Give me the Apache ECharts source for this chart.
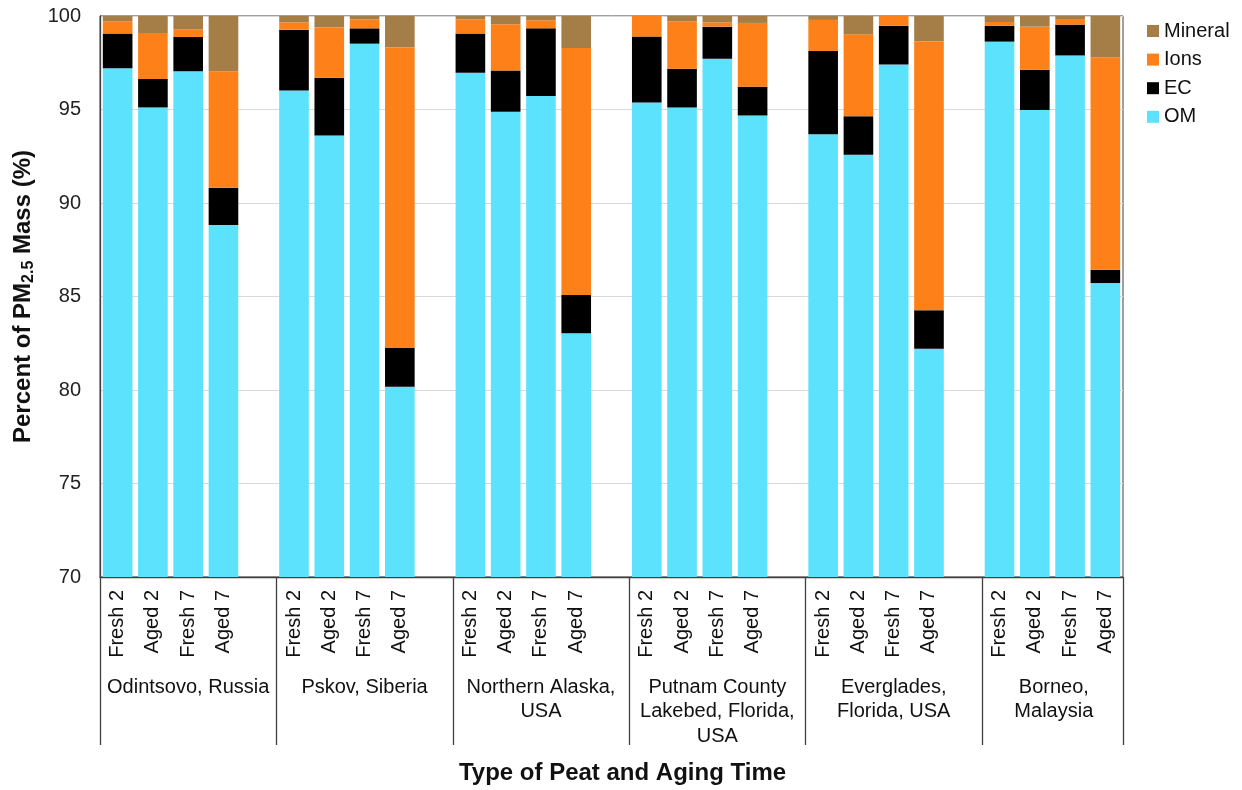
<!DOCTYPE html>
<html>
<head>
<meta charset="utf-8">
<script src="https://cdn.jsdelivr.net/npm/echarts@6/dist/echarts.min.js"></script>
<style>
  html, body { margin: 0; padding: 0; background: #fff; }
  #chart { width: 1242px; height: 790px; }
</style>
</head>
<body>
<div id="chart"></div>
<script>
// Peat sites and the four burn/aging conditions measured at each
const sites = [
  'Odintsovo, Russia',
  'Pskov, Siberia',
  'Northern Alaska,\nUSA',
  'Putnam County\nLakebed, Florida,\nUSA',
  'Everglades,\nFlorida, USA',
  'Borneo,\nMalaysia'
];
const conditions = ['Fresh 2', 'Aged 2', 'Fresh 7', 'Aged 7'];

// Share of PM2.5 mass (%) per component, 4 conditions per site in site order
const om = [
  97.21, 95.11, 97.05, 88.83,
  96.02, 93.61, 98.52, 80.17,
  96.97, 94.88, 95.72, 83.04,
  95.38, 95.11, 97.72, 94.68,
  93.68, 92.58, 97.40, 82.20,
  98.63, 94.97, 97.89, 85.72
];
const ec = [
  1.85, 1.52, 1.83, 1.98,
  3.25, 3.09, 0.82, 2.07,
  2.09, 2.21, 3.62, 2.04,
  3.52, 2.07, 1.71, 1.54,
  4.45, 2.06, 2.08, 2.07,
  0.84, 2.16, 1.65, 0.71
];
const ions = [
  0.66, 2.46, 0.41, 6.24,
  0.39, 2.69, 0.48, 16.08,
  0.76, 2.47, 0.43, 13.21,
  1.10, 2.54, 0.23, 3.41,
  1.66, 4.38, 0.52, 14.37,
  0.21, 2.30, 0.26, 11.37
];
const mineral = [
  0.28, 0.91, 0.71, 2.95,
  0.34, 0.61, 0.18, 1.68,
  0.18, 0.44, 0.23, 1.71,
  0.00, 0.28, 0.34, 0.37,
  0.21, 0.98, 0.00, 1.36,
  0.32, 0.57, 0.20, 2.20
];
const yTicks = { min: 70, max: 100, step: 5 };

// Build the category axis: each site gets its 4 conditions, followed by an
// empty spacer slot between sites (none after the last site).
const categories = [];
const slotOfValue = [];
sites.forEach((s, si) => {
  conditions.forEach((c, ci) => {
    slotOfValue.push(categories.length);
    categories.push(c);
  });
  if (si < sites.length - 1) categories.push('');
});
function spread(values) {
  const out = categories.map(() => null);
  values.forEach((v, i) => { out[slotOfValue[i]] = v; });
  return out;
}
// slot index at which each site's name is printed (middle of its span)
const siteLabelSlot = {};
sites.forEach((s, si) => { siteLabelSlot[si === sites.length - 1 ? si * 5 + 1 : si * 5 + 2] = si; });

const FONT = "'Liberation Sans', Arial, sans-serif";
const colors = { OM: '#5CE2FC', EC: '#000000', Ions: '#FE8018', Mineral: '#A57D47' };

function barSeries(name, values) {
  return {
    name: name,
    type: 'bar',
    stack: 'mass',
    xAxisIndex: 0,
    barCategoryGap: '16%',
    itemStyle: { color: colors[name] },
    emphasis: { disabled: true },
    data: spread(values)
  };
}

const chart = echarts.init(document.getElementById('chart'), null, { renderer: 'canvas' });
chart.setOption({
  animation: false,
  textStyle: { fontFamily: FONT },
  grid: {
    left: 100, right: 119, top: 16, bottom: 213,
    show: true, borderColor: '#404040', borderWidth: 1, backgroundColor: 'transparent'
  },
  legend: {
    orient: 'vertical',
    left: 1147,
    top: 21,
    padding: 0,
    icon: 'rect',
    itemWidth: 12,
    itemHeight: 12,
    itemGap: 8.6,
    data: ['Mineral', 'Ions', 'EC', 'OM'],
    textStyle: { fontFamily: FONT, fontSize: 20, color: '#111' }
  },
  xAxis: [
    {
      type: 'category',
      data: categories,
      position: 'bottom',
      axisLine: { show: true, lineStyle: { color: '#404040', width: 1.3 } },
      axisTick: { show: false },
      axisLabel: {
        interval: 0,
        rotate: 90,
        margin: 13,
        fontFamily: FONT,
        fontSize: 20,
        color: '#111'
      },
      splitLine: { show: false }
    },
    {
      type: 'category',
      data: categories,
      position: 'bottom',
      axisLine: { show: false },
      axisTick: {
        show: true,
        interval: (i) => i % 5 === 0,
        length: 168,
        lineStyle: { color: '#404040', width: 1.3 }
      },
      axisLabel: {
        interval: (i) => siteLabelSlot[i] !== undefined,
        margin: 98,
        verticalAlign: 'top',
        lineHeight: 24.5,
        fontFamily: FONT,
        fontSize: 20,
        color: '#111',
        formatter: (v, i) => {
          const si = siteLabelSlot[i];
          if (si === undefined) return '';
          // the last site has no spacer slot, so nudge its name to the span centre
          if (si === sites.length - 1) {
            return sites[si].split('\n').map(t => '{shift|' + t + '}').join('\n');
          }
          return sites[si];
        },
        rich: {
          shift: { fontFamily: FONT, fontSize: 20, color: '#111', lineHeight: 24.5, padding: [0, 0, 0, 38] }
        }
      },
      name: 'Type of Peat and Aging Time',
      nameLocation: 'middle',
      nameGap: 184,
      nameTextStyle: { fontFamily: FONT, fontSize: 24, fontWeight: 'bold', color: '#111', padding: [0, 0, 0, 22] },
      splitLine: { show: false }
    }
  ],
  yAxis: {
    type: 'value',
    min: yTicks.min,
    max: yTicks.max,
    interval: yTicks.step,
    axisLine: { show: true, lineStyle: { color: '#404040', width: 1.3 } },
    axisTick: { show: false },
    axisLabel: { fontFamily: FONT, fontSize: 20, color: '#222', margin: 19 },
    splitLine: { show: true, lineStyle: { color: '#d9d9d9', width: 1.2 } },
    name: '{m|Percent of PM}{sub|2.5}{m| Mass (%)}',
    nameLocation: 'middle',
    nameGap: 61,
    nameTextStyle: {
      rich: {
        m: { fontFamily: FONT, fontSize: 24, fontWeight: 'bold', color: '#111', lineHeight: 27, verticalAlign: 'middle' },
        sub: { fontFamily: FONT, fontSize: 16, fontWeight: 'bold', color: '#111', lineHeight: 16, verticalAlign: 'bottom' }
      }
    }
  },
  series: [
    barSeries('OM', om),
    barSeries('EC', ec),
    barSeries('Ions', ions),
    barSeries('Mineral', mineral)
  ]
});
</script>
</body>
</html>
